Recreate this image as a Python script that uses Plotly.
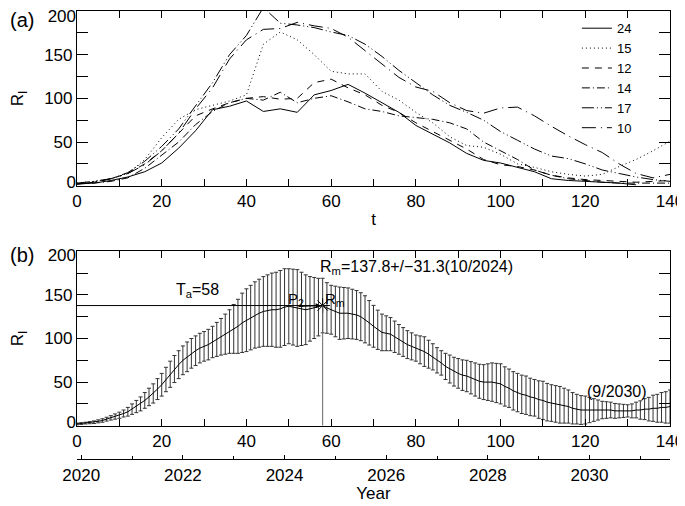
import plotly.graph_objects as go

# ---------------- data: panel (a) (months since minimum, every 4 months) ----------------
t_a = list(range(0, 141, 4))
c24 = [2, 3, 6, 10, 16, 26, 43, 63, 87, 91, 97, 85, 88, 84, 104, 109, 116, 106, 95, 84,
       69, 59, 49, 37, 29, 26, 21, 16, 8, 6, 5, 4, 3, 1]
c15 = [3, 5, 8, 14, 30, 55, 76, 87, 92, 97, 104, 162, 176, 167, 150, 131, 128, 128, 108, 98,
       84, 72, 56, 46, 44, 36, 25, 21, 16, 13, 11, 13, 22, 30, 40, 51]
c12 = [2, 4, 8, 14, 25, 40, 60, 80, 88, 95, 100, 102, 99, 100, 118, 122, 112, 104, 92, 84,
       72, 62, 52, 42, 30, 24, 22, 18, 12, 9, 7, 6, 5, 4, 5, 6]
c14 = [2, 3, 5, 9, 20, 35, 50, 70, 85, 95, 100, 98, 107, 95, 100, 103, 96, 88, 85, 80,
       78, 76, 72, 65, 50, 40, 30, 18, 12, 8, 6, 4, 3, 3, 3, 3]
c17 = [3, 5, 8, 15, 28, 45, 65, 92, 118, 150, 172, 204, 186, 184, 181, 176, 172, 162, 148, 132,
       118, 104, 92, 84, 75, 62, 52, 42, 34, 31, 25, 18, 14, 10, 7, 5]
c10 = [2, 4, 8, 14, 24, 40, 60, 88, 112, 145, 167, 179, 180, 187, 183, 180, 170, 155, 140, 124,
       113, 108, 95, 86, 83, 89, 90, 80, 68, 57, 47, 38, 25, 14, 9, 13]
cycle_names = ["24", "15", "12", "14", "17", "10"]

# ---------------- data: panel (b) (monthly mean and spread) ----------------
t_b = list(range(0, 141))
mean_b = [2, 2.5, 3, 3.5, 4, 5, 6, 7.5, 9, 10.5, 12, 14, 16, 19, 22, 25, 29, 33, 37, 42,
          47, 53, 59, 65, 70, 75, 79, 83, 86, 89, 91, 93, 96, 99, 102, 105, 108, 111, 114, 118,
          121, 124, 127, 129, 131, 132, 133, 133, 134, 136, 137, 136, 135, 134, 133, 134, 135, 136, 137.8, 135,
          133, 131, 129, 129, 129, 128, 127, 125, 122, 118, 114, 110, 107, 106, 105, 102, 99, 96, 93, 91,
          89, 87, 85, 82, 79, 75, 72, 68, 65, 62, 60, 58, 57, 55, 53, 51, 50, 50, 50, 49,
          48, 45, 43, 40, 38, 36, 35, 33, 32, 30, 29, 27, 26, 25, 24, 23, 22, 20, 19, 18,
          18, 18, 18, 18, 18, 18, 18, 17, 17, 17, 17, 17, 18, 18, 19, 19, 20, 20, 21, 21, 22]
sd_b = [1, 1, 1, 1.2, 1.5, 1.7, 2, 2.2, 2.5, 3, 3.5, 4, 5, 6, 7, 8, 9, 10, 11, 12,
        13, 14, 15, 15.5, 16, 16.5, 17, 17, 17, 17, 17, 17.5, 18, 19.5, 21, 23, 25, 28, 31, 34,
        36, 37, 38, 39, 40, 41, 42, 43, 44, 44, 43, 43.5, 44, 42, 40, 37, 35, 33, 31.3, 29,
        28, 29, 30, 29.5, 29, 28.5, 28, 27.5, 27, 25.5, 24, 22.5, 21, 20, 19, 18, 17, 16.5, 16, 15.5,
        15, 16, 17, 16, 15, 14.5, 14, 15, 16, 16.5, 17, 17.5, 18, 18.5, 19, 19.5, 20, 21, 22, 22.5,
        23, 22.5, 22, 22, 22, 22, 22, 21.5, 21, 21.5, 22, 21.5, 21, 21, 21, 20, 19, 18, 17, 16.5,
        16, 14.5, 13, 11.5, 10, 9.5, 9, 8.5, 8, 7.5, 7, 8, 9, 10.5, 12, 13.5, 15, 16, 17, 18, 19]

Ta = 58          # months to maximum
Rm = 137.8       # predicted maximum
Rm_err = 31.3
year0 = 2019 + 11 / 12   # t = 0  (Dec 2019)
year_ticks = [2020, 2022, 2024, 2026, 2028, 2030]
y_ticks = [0, 50, 100, 150, 200]

FONT = "Liberation Sans"
dash_styles = ["solid", "1px,3px", "7px,6px", "8px,3px,1px,3px",
               "12px,3px,1px,3px,1px,3px", "14px,5px,1px,5px"]

fig = go.Figure()
for name, vals, dash in zip(cycle_names, [c24, c15, c12, c14, c17, c10], dash_styles):
    fig.add_trace(go.Scatter(x=t_a[:len(vals)], y=vals, mode="lines", name=name,
                             line=dict(color="black", width=1, dash=dash),
                             xaxis="x", yaxis="y"))

fig.add_trace(go.Scatter(x=t_b, y=mean_b, mode="lines", showlegend=False,
                         line=dict(color="black", width=1),
                         error_y=dict(type="data", array=sd_b, visible=True,
                                      thickness=1, width=2, color="#333333"),
                         xaxis="x2", yaxis="y2"))
fig.add_trace(go.Scatter(x=[Ta], y=[Rm], mode="markers", showlegend=False,
                         marker=dict(symbol="asterisk-open", size=12, color="black",
                                     line=dict(width=1, color="black")),
                         xaxis="x2", yaxis="y2"))
fig.add_trace(go.Scatter(x=year_ticks, y=[None] * len(year_ticks), mode="lines",
                         showlegend=False, hoverinfo="skip", xaxis="x3", yaxis="y2"))
# helper (empty) traces so that the end-label overlay axes are drawn
for xa, ya in [("x", "y3"), ("x", "y4"), ("x2", "y5"), ("x2", "y6")]:
    fig.add_trace(go.Scatter(x=[None], y=[None], mode="lines", showlegend=False,
                             hoverinfo="skip", xaxis=xa, yaxis=ya))

tickfont = dict(family=FONT, size=17, color="black")
common = dict(showline=True, linecolor="black", linewidth=1.2, mirror="allticks",
              ticks="inside", tickcolor="black", showgrid=False, zeroline=False,
              automargin=False, tickfont=tickfont)

xcommon = dict(common, range=[0, 140], tickmode="linear", tick0=0, dtick=20, ticklen=7,
               minor=dict(dtick=10, tick0=0, ticks="inside", ticklen=7, tickcolor="black"))
ycommon = dict(common, range=[0, 200], tickmode="array", tickvals=y_ticks,
               ticktext=[""] + [str(v) for v in y_ticks[1:-1]] + [""], ticklen=11,
               minor=dict(dtick=25, tick0=0, ticks="inside", ticklen=11, tickcolor="black"))


def end_label(base, anchor, val, shift):
    return dict(overlaying=base, anchor=anchor, side="left", range=[0, 200],
                tickmode="array", tickvals=[val], ticktext=[str(val)], ticks="",
                showline=False, showgrid=False, zeroline=False, automargin=False,
                ticklabelshift=shift, ticklabeloverflow="allow", tickfont=tickfont)


ya_dom = [0.610, 1.0]
yb_dom = [0.0743, 0.4636]

fig.update_layout(
    width=685, height=506,
    margin=dict(l=69, r=23, t=3, b=55, autoexpand=False),
    plot_bgcolor="white", paper_bgcolor="white",
    font=dict(family=FONT, size=17, color="black"),
    xaxis=dict(xcommon, domain=[0, 1], anchor="y",
               title=dict(text="t", standoff=2, font=dict(size=17))),
    yaxis=dict(ycommon, domain=ya_dom, anchor="x",
               title=dict(text="R<sub>I</sub>", standoff=20, font=dict(size=17))),
    yaxis3=end_label("y", "x", 200, 5),
    yaxis4=end_label("y", "x", 0, -4),
    xaxis2=dict(xcommon, domain=[0, 1], anchor="y2"),
    yaxis2=dict(ycommon, domain=yb_dom, anchor="x2",
                title=dict(text="R<sub>I</sub>", standoff=20, font=dict(size=17))),
    yaxis5=end_label("y2", "x2", 200, 4),
    yaxis6=end_label("y2", "x2", 0, -4),
    xaxis3=dict(overlaying="x2", anchor="free", position=0, side="bottom",
                range=[year0, year0 + 140 / 12], showline=True, linecolor="black",
                linewidth=1.2, showgrid=False, zeroline=False, automargin=False,
                tickmode="array", tickvals=year_ticks, ticks="inside", ticklen=4,
                tickcolor="black",
                minor=dict(dtick=1, tick0=2020, ticks="inside", ticklen=3, tickcolor="black"),
                tickfont=tickfont,
                title=dict(text="Year", standoff=0, font=dict(size=17))),
    legend=dict(x=0.843, y=0.995, xanchor="left", yanchor="top",
                bgcolor="rgba(0,0,0,0)", borderwidth=0, tracegroupgap=0,
                font=dict(family=FONT, size=13, color="black")),
    showlegend=True,
)

fig.add_shape(type="line", xref="x2", yref="y2", x0=0, x1=Ta, y0=Rm, y1=Rm,
              line=dict(color="black", width=1))
fig.add_shape(type="line", xref="x2", yref="y2", x0=Ta, x1=Ta, y0=0, y1=Rm,
              line=dict(color="#666666", width=1))

ann = [
    dict(text="(a)", xref="paper", yref="paper", x=-0.1164, y=0.98, xanchor="left",
         yanchor="middle", showarrow=False, font=dict(size=20)),
    dict(text="(b)", xref="paper", yref="paper", x=-0.1164, y=0.455, xanchor="left",
         yanchor="middle", showarrow=False, font=dict(size=20)),
    dict(text="T<sub>a</sub>=%d" % Ta, xref="x2", yref="y2", x=28.5, y=155,
         showarrow=False, font=dict(size=16)),
    dict(text="P<sub>2</sub>", xref="x2", yref="y2", x=51.8, y=145,
         showarrow=False, font=dict(size=15)),
    dict(text="R<sub>m</sub>", xref="x2", yref="y2", x=61.0, y=145,
         showarrow=False, font=dict(size=15)),
    dict(text="R<sub>m</sub>=%.1f+/−%.1f(10/2024)" % (Rm, Rm_err), xref="x2", yref="y2",
         x=56.9, y=181, xanchor="left", showarrow=False, font=dict(size=16)),
    dict(text="(9/2030)", xref="x2", yref="y2", x=127.5, y=39,
         showarrow=False, font=dict(size=16)),
    dict(text="", xref="x2", yref="y2", x=Ta, y=Rm, ax=52, ay=Rm - 1, axref="x2", ayref="y2",
         showarrow=True, arrowhead=2, arrowsize=1, arrowwidth=1, arrowcolor="black",
         standoff=2),
]
fig.update_layout(annotations=ann)

fig.write_html("out.html")
